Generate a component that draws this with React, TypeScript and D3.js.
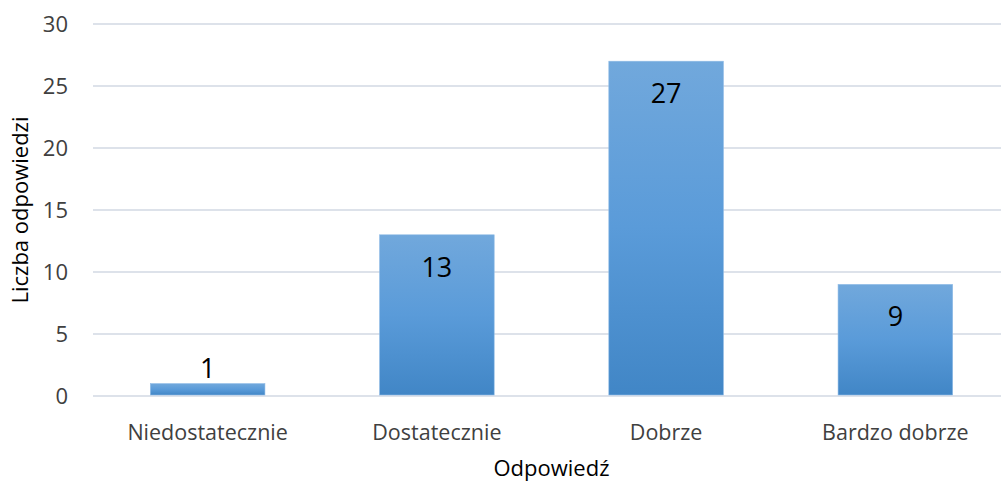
import * as d3 from 'd3';
import React from 'react';

const width = 1001;
const height = 484;
const margin = { top: 24, right: -9, bottom: 88, left: 93 };

const categories = ['Niedostatecznie', 'Dostatecznie', 'Dobrze', 'Bardzo dobrze'];
const values = [1, 13, 27, 9];
const yTicks = [0, 5, 10, 15, 20, 25, 30];

const font = '"Open Sans", "Noto Sans", sans-serif';

const App = () => {
  const xScale = d3.scaleBand<string>()
    .domain(categories)
    .range([margin.left, width - margin.right])
    .paddingInner(0.5)
    .paddingOuter(0.25);
  const yScale = d3.scaleLinear().domain([0, 30]).range([height - margin.bottom, margin.top]);

  return (
    <svg width={width} height={height} style={{ position: 'absolute', left: 0, top: 0, background: '#fff' }}>
      <defs>
        <linearGradient id="barFill" x1="0" y1="0" x2="0" y2="1">
          <stop offset="0%" stopColor="#71a8dc" />
          <stop offset="50%" stopColor="#5a9bd9" />
          <stop offset="100%" stopColor="#4186c6" />
        </linearGradient>
      </defs>
      {yTicks.map(t => (
        <g key={t}>
          <line x1={margin.left} x2={width} y1={yScale(t)} y2={yScale(t)} stroke="#dde2ea" strokeWidth={2} />
          <text x={68} y={yScale(t)} dy="0.36em" textAnchor="end" fontFamily={font} fontSize={22} fill="#404040">{t}</text>
        </g>
      ))}
      {categories.map((c, i) => {
        const x = xScale(c)!;
        const y = yScale(values[i]);
        const inside = values[i] > 3;
        return (
          <g key={c}>
            <rect x={x} y={y} width={xScale.bandwidth()} height={yScale(0) - y - 1} fill="url(#barFill)" stroke="#8fbbe6" strokeWidth={0.6} />
            <text x={x + xScale.bandwidth() / 2} y={inside ? y + 42 : y - 6} textAnchor="middle" fontFamily={font} fontSize={27} fill="#000">{values[i]}</text>
            <text x={x + xScale.bandwidth() / 2} y={440} textAnchor="middle" fontFamily={font} fontSize={21.5} fill="#404040">{c}</text>
          </g>
        );
      })}
      <text x={(margin.left + width - margin.right) / 2} y={476} textAnchor="middle" fontFamily={font} fontSize={22} fill="#000">Odpowiedź</text>
      <text transform={`translate(28, ${(yScale(0) + yScale(30)) / 2}) rotate(-90)`} textAnchor="middle" fontFamily={font} fontSize={22} fill="#000">Liczba odpowiedzi</text>
    </svg>
  );
};

export default App;
